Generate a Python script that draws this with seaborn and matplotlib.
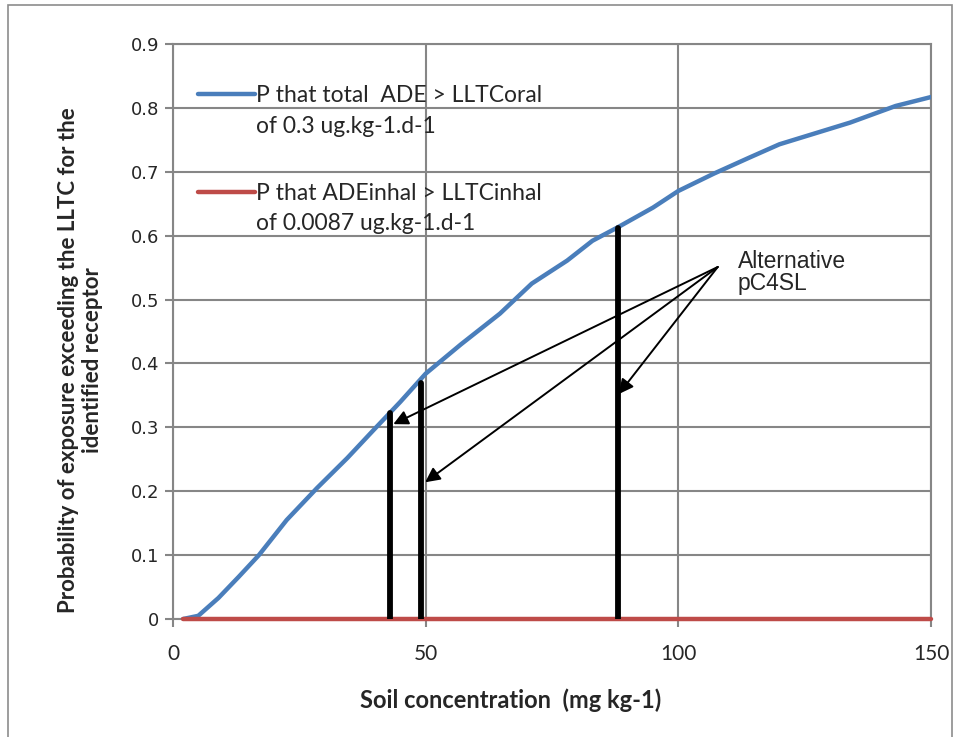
import numpy as np
import pandas as pd
import matplotlib
matplotlib.use('Agg')
import matplotlib.pyplot as plt
import seaborn as sns
from matplotlib.lines import Line2D
from matplotlib.patches import Rectangle

# blue curve
soil_conc = [2, 5, 9, 13, 17, 22.5, 28.5, 34.5, 39.6, 45, 50, 57, 64.7, 71, 78,
             83, 88, 95, 100, 107, 114, 120, 127, 134, 143, 150]
p_total = [0, 0.005, 0.033, 0.066, 0.10, 0.155, 0.205, 0.252, 0.295, 0.34, 0.384,
           0.43, 0.478, 0.525, 0.561, 0.592, 0.613, 0.644, 0.670, 0.697, 0.722,
           0.743, 0.760, 0.777, 0.803, 0.817]
# red series is flat at zero
inhal_conc = [2, 150]
p_inhal = [0, 0]

# alternative pC4SL markers
pc4sl_x = [43, 49, 88]
pc4sl_top = [0.322, 0.370, 0.612]
arrow_tips = [(43.6, 0.305), (49.9, 0.214), (88.2, 0.352)]
arrow_from = (107.8, 0.551)

lab_total = ['P that total  ADE > LLTCoral', 'of 0.3 ug.kg-1.d-1']
lab_inhal = ['P that ADEinhal > LLTCinhal', 'of 0.0087 ug.kg-1.d-1']

x_ticks = [0, 50, 100, 150]
y_ticks = [0, 0.1, 0.2, 0.3, 0.4, 0.5, 0.6, 0.7, 0.8, 0.9]
y_ticklabels = ['0', '0.1', '0.2', '0.3', '0.4', '0.5', '0.6', '0.7', '0.8', '0.9']

blue = '#4A7EBB'
red = '#BE4B48'
grid_col = '#868686'

sns.set_style('white')
calibri = ['Lato', 'DejaVu Sans']

fig = plt.figure(figsize=(9.57, 7.37), dpi=100)
ax = fig.add_axes([173 / 957, 1 - 619 / 737, 758 / 957, 575 / 737])

df_total = pd.DataFrame({'x': soil_conc, 'y': p_total})
df_inhal = pd.DataFrame({'x': inhal_conc, 'y': p_inhal})
sns.lineplot(data=df_total, x='x', y='y', ax=ax, color=blue, lw=3.2,
             solid_capstyle='round', zorder=3)
sns.lineplot(data=df_inhal, x='x', y='y', ax=ax, color=red, lw=3.2,
             solid_capstyle='round', zorder=4, clip_on=False)

ax.vlines(pc4sl_x, 0, pc4sl_top, colors='black', lw=4.2, zorder=5,
          capstyle='round')

for tip in arrow_tips:
    ax.annotate('', xy=tip, xytext=arrow_from,
                arrowprops=dict(arrowstyle='-|>', color='black', lw=1.4,
                                mutation_scale=22, shrinkA=0, shrinkB=0),
                zorder=6)
ax.text(111.7, 0.577, 'Alternative\npC4SL', fontsize=16.5,
        family='Liberation Sans', va='top', ha='left', linespacing=0.95)

ax.set_xlim(0, 150)
ax.set_ylim(0, 0.9)
ax.set_xticks(x_ticks)
ax.set_xticklabels([str(t) for t in x_ticks], fontsize=15, family=calibri)
ax.set_yticks(y_ticks)
ax.set_yticklabels(y_ticklabels, fontsize=13, family='DejaVu Sans')
ax.tick_params(axis='both', direction='out', length=6, width=1.5,
               color=grid_col, left=True, bottom=True, pad=4)
ax.tick_params(axis='x', pad=12)
ax.grid(True, color=grid_col, lw=1.5)
ax.set_axisbelow(True)
for s in ax.spines.values():
    s.set_color(grid_col)
    s.set_linewidth(1.5)

ax.set_xlabel('Soil concentration  (mg kg-1)', fontsize=17, family=calibri,
              fontweight='bold')
ax.xaxis.set_label_coords(0.446, -0.12)
ax.set_ylabel('Probability of exposure exceeding the LLTC for the\nidentified receptor',
              fontsize=16, family=calibri, fontweight='bold', linespacing=1.2)
ax.yaxis.set_label_coords(-0.092, 0.45)

blank = Line2D([], [], color='none')
h_blue = Line2D([], [], color=blue, lw=3.2, solid_capstyle='round')
h_red = Line2D([], [], color=red, lw=3.2, solid_capstyle='round')
leg_kw = dict(frameon=False, handlelength=2.5, handletextpad=0.05,
              labelspacing=0.42, borderaxespad=0, borderpad=0,
              prop={'family': calibri, 'size': 16.5})
leg1 = ax.legend([h_blue, blank], lab_total, loc='upper left',
                 bbox_to_anchor=(0.033, 0.928), **leg_kw)
ax.add_artist(leg1)
ax.legend([h_red, blank], lab_inhal, loc='upper left',
          bbox_to_anchor=(0.033, 0.759), **leg_kw)

fig.patches.append(Rectangle((8 / 957, -0.01), 944 / 957, 1 - 5 / 737 + 0.01,
                             transform=fig.transFigure, fill=False,
                             edgecolor='#8c8c8c', lw=1.2))

fig.savefig('out.png', dpi=100)
